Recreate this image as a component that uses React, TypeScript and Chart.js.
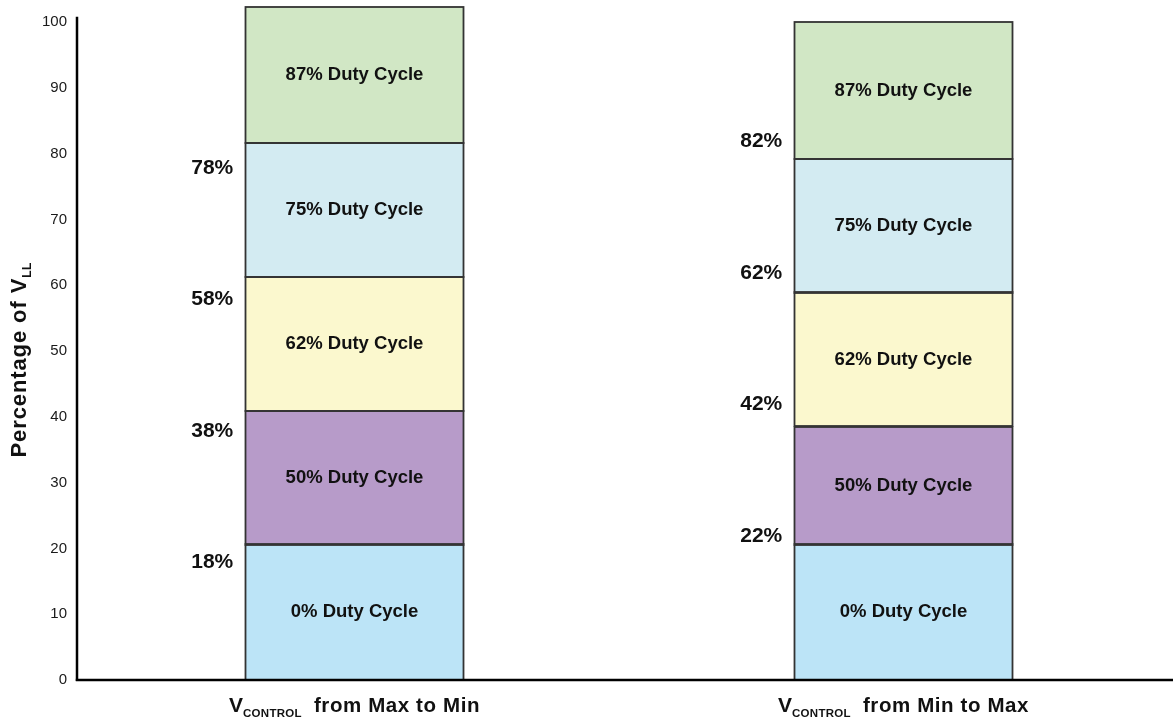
import React, { useEffect, useRef } from "react";
import { Chart, registerables } from "chart.js";

Chart.register(...registerables);

const categories = ["from Max to Min", "from Min to Max"];
const segmentNames = ["0% Duty Cycle", "50% Duty Cycle", "62% Duty Cycle", "75% Duty Cycle", "87% Duty Cycle"];
const maxToMinValues = [20.6, 20.3, 20.3, 20.4, 20.7];
const minToMaxValues = [20.6, 17.9, 20.4, 20.3, 20.8];
const maxToMinThresholds = [18, 38, 58, 78];
const minToMaxThresholds = [22, 42, 62, 82];
const segmentColors = ["#BCE4F7", "#B79BC9", "#FBF8CE", "#D3EBF2", "#D1E7C5"];
const yTickValues = [0, 10, 20, 30, 40, 50, 60, 70, 80, 90, 100];

const FONT = "'Liberation Sans', Arial, Helvetica, sans-serif";

const overlayPlugin = {
  id: "overlay",
  afterDatasetsDraw(chart: any) {
    const ctx = chart.ctx;
    const y = chart.scales.y;
    const x = chart.scales.x;
    const area = chart.chartArea;
    ctx.save();

    // segment outlines
    ctx.strokeStyle = "#333333";
    ctx.lineWidth = 1.8;
    chart.data.datasets.forEach((_ds: any, di: number) => {
      const meta = chart.getDatasetMeta(di);
      meta.data.forEach((bar: any) => {
        const left = bar.x - bar.width / 2;
        const top = Math.min(bar.y, bar.base);
        const h = Math.abs(bar.base - bar.y);
        ctx.strokeRect(Math.round(left) + 0.5, Math.round(top), Math.round(bar.width) - 1, Math.round(h));
      });
    });

    // segment labels
    ctx.fillStyle = "#111";
    ctx.textAlign = "center";
    ctx.textBaseline = "middle";
    ctx.font = `bold 18.5px ${FONT}`;
    chart.data.datasets.forEach((ds: any, di: number) => {
      const meta = chart.getDatasetMeta(di);
      meta.data.forEach((bar: any) => {
        const cy = (bar.y + bar.base) / 2;
        ctx.fillText(ds.label, bar.x, cy);
      });
    });

    // threshold labels
    ctx.font = `bold 21px ${FONT}`;
    ctx.textAlign = "right";
    const thresholds = [maxToMinThresholds, minToMaxThresholds];
    const meta0 = chart.getDatasetMeta(0);
    thresholds.forEach((list, ci) => {
      const bar = meta0.data[ci];
      const left = bar.x - bar.width / 2;
      list.forEach((v) => {
        ctx.fillText(v + "%", left - 12, y.getPixelForValue(v) + 1);
      });
    });

    // axes lines
    ctx.strokeStyle = "#000";
    ctx.lineWidth = 2.5;
    const axisX = area.left - 3;
    ctx.beginPath();
    ctx.moveTo(axisX, y.getPixelForValue(100.8));
    ctx.lineTo(axisX, area.bottom + 1);
    ctx.stroke();
    ctx.beginPath();
    ctx.moveTo(axisX - 1.2, area.bottom);
    ctx.lineTo(chart.width, area.bottom);
    ctx.stroke();

    // x labels with subscript
    ctx.textAlign = "left";
    ctx.textBaseline = "alphabetic";
    const setLS = (v: string) => {
      try { (ctx as any).letterSpacing = v; } catch (e) {}
    };
    categories.forEach((label, i) => {
      const cx = x.getPixelForValue(i);
      setLS("0px");
      ctx.font = `bold 21px ${FONT}`;
      const wV = ctx.measureText("V").width;
      setLS("0.3px");
      ctx.font = `bold 11.5px ${FONT}`;
      const wSub = ctx.measureText("CONTROL").width;
      setLS("0.6px");
      ctx.font = `bold 20.5px ${FONT}`;
      const gap = 12;
      const wRest = ctx.measureText(label).width;
      const total = wV + wSub + gap + wRest;
      let sx = cx - total / 2;
      const base = 712;
      setLS("0px");
      ctx.font = `bold 21px ${FONT}`;
      ctx.fillText("V", sx, base);
      sx += wV;
      setLS("0.3px");
      ctx.font = `bold 11.5px ${FONT}`;
      ctx.fillText("CONTROL", sx, base + 5);
      sx += wSub + gap;
      setLS("0.6px");
      ctx.font = `bold 20.5px ${FONT}`;
      ctx.fillText(label, sx, base);
    });
    setLS("0px");

    // y title
    ctx.save();
    ctx.translate(26, 360);
    ctx.rotate(-Math.PI / 2);
    setLS("0.9px");
    ctx.font = `bold 22px ${FONT}`;
    const main = "Percentage of V";
    const wMain = ctx.measureText(main).width;
    setLS("0.3px");
    ctx.font = `bold 12px ${FONT}`;
    const wLL = ctx.measureText("LL").width;
    const tx = -(wMain + wLL) / 2;
    setLS("0.9px");
    ctx.font = `bold 22px ${FONT}`;
    ctx.fillText(main, tx, 0);
    setLS("0.3px");
    ctx.font = `bold 12px ${FONT}`;
    ctx.fillText("LL", tx + wMain, 5);
    setLS("0px");
    ctx.restore();

    ctx.restore();
  },
};

export default function App() {
  const canvasRef = useRef<HTMLCanvasElement | null>(null);

  useEffect(() => {
    const canvas = canvasRef.current;
    if (!canvas) return;
    const datasets = segmentNames.map((name, i) => ({
      label: name,
      data: [maxToMinValues[i], minToMaxValues[i]],
      backgroundColor: segmentColors[i],
      borderWidth: 0,
      clip: false as any,
      barPercentage: 0.398,
      categoryPercentage: 1,
    }));
    const chart = new Chart(canvas, {
      type: "bar",
      data: { labels: categories, datasets },
      options: {
        animation: false,
        responsive: true,
        maintainAspectRatio: false,
        layout: { padding: { top: 20, bottom: 39, left: 0, right: 0 } },
        plugins: {
          legend: { display: false },
          tooltip: { enabled: false },
        },
        scales: {
          x: {
            stacked: true,
            display: false,
          },
          y: {
            stacked: true,
            min: 0,
            max: 100,
            afterFit: (scale: any) => {
              scale.width = 80;
            },
            afterBuildTicks: (scale: any) => {
              scale.ticks = yTickValues.map((v) => ({ value: v }));
            },
            grid: { display: false, drawTicks: false },
            border: { display: false },
            ticks: {
              padding: 13,
              color: "#1a1a1a",
              font: { family: FONT, size: 15 },
            },
          },
        },
      },
      plugins: [overlayPlugin],
    });
    return () => chart.destroy();
  }, []);

  return (
    <div
      style={{
        position: "fixed",
        left: 0,
        top: 0,
        width: 1173,
        height: 719,
        overflow: "hidden",
        background: "#fff",
      }}
    >
      <div style={{ position: "relative", width: 1178, height: 719 }}>
        <canvas ref={canvasRef} />
      </div>
    </div>
  );
}
